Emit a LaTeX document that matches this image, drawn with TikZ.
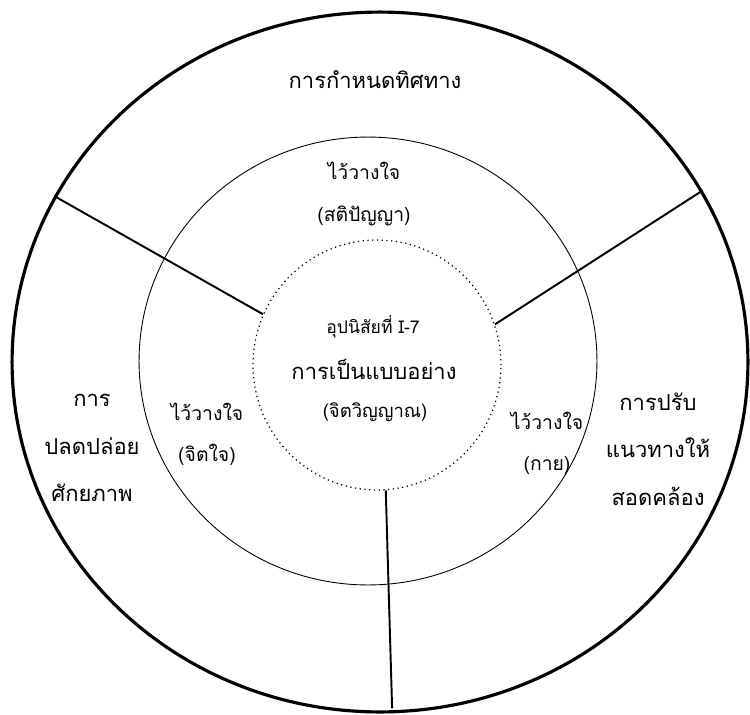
\documentclass[tikz,border=0pt]{standalone}
\usepackage{fontspec}
\usepackage{tikz}
\usetikzlibrary{shapes.geometric}
\newfontfamily\thaifont[Script=Thai]{Loma}

\begin{document}
\begin{tikzpicture}[x=0.02cm, y=-0.02cm, font=\thaifont,
  ring/.style={ellipse, draw, inner sep=0pt},
  spoke/.style={line width=1.1pt},
  bigtxt/.style={font=\thaifont\fontsize{12.5}{27}\selectfont, align=center},
  midtxt/.style={font=\thaifont\fontsize{11}{23.5}\selectfont, align=center}]
  \useasboundingbox (0,0) rectangle (750,714);
  % rings
  \node[ring, line width=1.8pt, minimum width=14.72cm, minimum height=14cm] (outer) at (380,362) {};
  \node[ring, line width=0.5pt, minimum width=9.16cm, minimum height=8.96cm] (middle) at (368,361) {};
  \node[ring, dotted, line width=0.7pt, minimum width=4.96cm, minimum height=5cm] (core) at (377,365) {};
  % spokes
  \draw[spoke] (core.156.7) -- (outer.153.1);
  \draw[spoke] (core.19.5) -- (outer.28.4);
  \draw[spoke, shorten >=2.8pt] (core.-86) -- (outer.-88.7);
  % outer ring
  \node[bigtxt] (direction) at (375,80) {การกำหนดทิศทาง};
  \node[bigtxt] (release) at (92,448) {การ\\ปลดปล่อย\\ศักยภาพ};
  \node[bigtxt] (align) at (658,449) {การปรับ\\แนวทางให้\\สอดคล้อง};
  % middle ring
  \node[midtxt] (wisdom) at (364,194) {ไว้วางใจ\\(สติปัญญา)};
  \node[midtxt] (mind) at (207,434) {ไว้วางใจ\\(จิตใจ)};
  \node[midtxt] (body) at (547,443) {ไว้วางใจ\\(กาย)};
  % core
  \node[font=\thaifont\fontsize{10}{12}\selectfont] (habit) at (373,327) {อุปนิสัยที่ I-7};
  \node[font=\thaifont\fontsize{12.5}{15}\selectfont] (model) at (374,369) {การเป็นแบบอย่าง};
  \node[font=\thaifont\fontsize{10.5}{12}\selectfont] (spirit) at (375,412) {(จิตวิญญาณ)};
\end{tikzpicture}
\end{document}
